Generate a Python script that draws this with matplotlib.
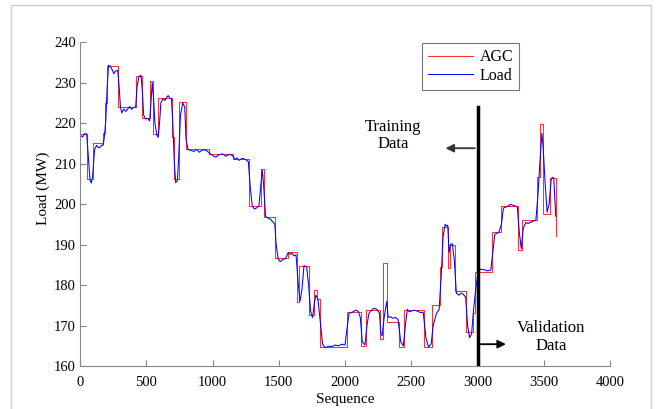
import matplotlib.pyplot as plt
from matplotlib.patches import Rectangle

# AGC set-point: step changes (sequence index, MW)
agc_x = [0, 53, 100, 176, 190, 206, 289, 423, 466, 528, 549, 591, 692, 712, 750, 797,
         976, 1157, 1275, 1364, 1389, 1472, 1567, 1640, 1655, 1726, 1768, 1791, 1811,
         2018, 2118, 2158, 2264, 2289, 2314, 2410, 2445, 2596, 2654, 2717, 2735, 2780,
         2792, 2830, 2913, 2964, 2981, 3112, 3177, 3303, 3333, 3447, 3472, 3492, 3547, 3592]
agc_y = [217.3, 206.2, 215.0, 217.5, 225.0, 234.0, 224.0, 231.7, 221.2, 230.4, 217.3, 226.2,
         216.5, 206.2, 225.3, 213.7, 212.3, 211.1, 199.5, 208.6, 196.7, 186.7, 188.1, 175.9,
         184.7, 172.6, 178.9, 176.5, 164.8, 173.4, 164.9, 173.8, 166.6, 185.5, 171.0, 164.8,
         173.8, 164.8, 175.2, 184.5, 194.4, 184.1, 190.0, 178.5, 168.3, 173.0, 183.3, 193.1,
         199.6, 188.6, 196.0, 206.7, 219.9, 197.5, 206.5, 192.1]

# measured load (sequence index, MW)
load_x = [0, 20, 35, 50, 60, 75, 85, 95, 110, 125, 140, 150, 165, 175, 185, 195, 205, 215,
          230, 245, 255, 265, 285, 295, 305, 315, 330, 345, 360, 375, 390, 400, 420, 430,
          445, 460, 470, 480, 495, 510, 525, 535, 545, 555, 565, 580, 590, 600, 610, 625,
          640, 650, 665, 680, 690, 700, 712, 722, 735, 745, 758, 775, 790, 800, 815, 840,
          860, 880, 900, 925, 950, 980, 1000, 1025, 1050, 1075, 1100, 1125, 1150, 1170,
          1185, 1200, 1225, 1250, 1270, 1285, 1300, 1315, 1330, 1350, 1365, 1375, 1385,
          1400, 1420, 1440, 1470, 1480, 1495, 1510, 1520, 1535, 1550, 1570, 1585, 1600,
          1615, 1630, 1645, 1660, 1675, 1690, 1710, 1725, 1740, 1755, 1770, 1780, 1795,
          1810, 1830, 1850, 1875, 1900, 1925, 1950, 1975, 2000, 2010, 2030, 2045, 2060,
          2080, 2100, 2115, 2130, 2150, 2165, 2180, 2200, 2220, 2240, 2260, 2270, 2280,
          2295, 2305, 2315, 2325, 2340, 2360, 2380, 2400, 2420, 2440, 2455, 2470, 2485,
          2500, 2525, 2550, 2570, 2590, 2610, 2630, 2650, 2665, 2690, 2710, 2725, 2740,
          2755, 2765, 2775, 2785, 2795, 2810, 2825, 2840, 2860, 2875, 2890, 2910, 2925,
          2940, 2955, 2970, 2990, 3005, 3025, 3050, 3075, 3100, 3115, 3130, 3145, 3160,
          3180, 3195, 3215, 3230, 3245, 3260, 3280, 3300, 3315, 3330, 3345, 3365, 3380,
          3400, 3420, 3440, 3455, 3470, 3485, 3495, 3510, 3525, 3540, 3555, 3565, 3575,
          3590]
load_y = [217.0, 216.6, 217.4, 217.3, 213.0, 206.0, 205.2, 207.0, 213.5, 214.5, 213.9, 214.0,
          214.6, 214.5, 217.0, 221.0, 229.0, 234.3, 234.0, 233.0, 232.2, 232.8, 233.0, 229.0,
          224.0, 222.5, 223.5, 222.9, 223.5, 224.1, 223.4, 223.8, 224.0, 229.0, 231.5, 231.8,
          228.0, 222.0, 221.0, 221.2, 220.5, 225.0, 230.0, 226.0, 220.0, 217.0, 216.5, 220.0,
          225.0, 226.0, 225.6, 226.2, 226.8, 226.1, 226.0, 220.0, 210.0, 205.3, 205.8, 212.0,
          222.0, 225.0, 224.0, 216.0, 213.5, 213.2, 213.0, 213.5, 212.8, 213.4, 213.3, 212.5,
          212.0, 211.6, 212.2, 212.4, 211.8, 212.3, 212.0, 211.0, 211.4, 210.8, 211.3, 211.0,
          210.5, 204.0, 199.5, 198.8, 199.0, 199.5, 205.0, 208.4, 205.0, 197.0, 196.5, 196.2,
          195.0, 190.0, 186.5, 185.8, 186.0, 186.4, 186.5, 188.0, 187.6, 187.8, 187.2, 187.5,
          181.0, 176.0, 179.0, 184.8, 184.5, 180.0, 173.5, 172.0, 176.0, 177.5, 176.5, 172.0,
          165.5, 164.5, 164.9, 164.8, 165.2, 165.0, 165.4, 165.2, 168.0, 173.0, 173.2, 173.4,
          173.8, 173.5, 172.0, 166.0, 165.2, 170.0, 173.0, 173.8, 174.3, 174.0, 173.0, 168.0,
          167.5, 172.0, 174.0, 176.0, 172.0, 172.2, 171.8, 172.0, 171.5, 166.0, 165.0, 170.0,
          174.0, 173.4, 173.6, 173.8, 173.5, 173.2, 173.3, 167.0, 164.7, 165.5, 170.0, 173.0,
          174.0, 182.0, 192.0, 195.0, 194.6, 194.8, 188.0, 190.0, 190.2, 186.0, 178.0, 177.5,
          178.0, 177.8, 177.0, 170.0, 167.0, 168.0, 174.0, 180.0, 183.5, 183.9, 183.8, 183.5,
          183.7, 188.0, 192.5, 192.8, 193.0, 195.0, 199.0, 199.3, 199.5, 199.9, 199.8, 199.6,
          199.3, 193.0, 189.0, 194.0, 195.5, 195.2, 195.5, 195.8, 196.0, 202.0, 210.0, 217.5,
          214.0, 205.0, 198.0, 200.0, 206.0, 206.6, 206.3, 197.0]

plt.rcParams['font.family'] = 'Liberation Serif'

fig = plt.figure(figsize=(6.56, 4.09), dpi=100)
ax = fig.add_axes([0.122, 0.105, 0.808, 0.792])

# light frame around the figure
fig.patches.append(Rectangle((0.0168, -0.01), 0.975, 0.998, transform=fig.transFigure,
                             fill=False, edgecolor='#cccccc', lw=1))

ax.plot(agc_x, agc_y, color='#ff3030', lw=0.75, drawstyle='steps-post', label='AGC')
ax.plot(load_x, load_y, color='#0000ff', lw=0.75, label='Load')

# training / validation split
ax.plot([3000, 3000], [160, 224], color='black', lw=2.5)
ax.annotate('', xy=(2737, 213.8), xytext=(3000, 213.8),
            arrowprops=dict(arrowstyle='-|>', color='#333333', lw=1.3, mutation_scale=12))
ax.annotate('', xy=(3235, 165.4), xytext=(3000, 165.4),
            arrowprops=dict(arrowstyle='-|>', color='black', lw=1.3, mutation_scale=12))
ax.text(2360, 217, 'Training\nData', ha='center', va='center', fontsize=12, linespacing=1.1)
ax.text(3555, 167.2, 'Validation\nData', ha='center', va='center', fontsize=12, linespacing=1.1)

ax.set_xlim(0, 4000)
ax.set_ylim(160, 240)
ax.set_xticks(range(0, 4001, 500))
ax.set_yticks(range(160, 241, 10))
ax.set_xlabel('Sequence', fontsize=11, labelpad=3)
ax.set_ylabel('Load (MW)', fontsize=11)
ax.yaxis.set_label_coords(-0.056, 0.55)
ax.tick_params(direction='in', length=4, color='#888888', labelsize=10.5)
ax.tick_params(axis='x', pad=7)
ax.tick_params(axis='y', pad=3)
for side in ['top', 'right']:
    ax.spines[side].set_visible(False)
for side in ['left', 'bottom']:
    ax.spines[side].set_color('#888888')

leg = ax.legend(loc='upper left', bbox_to_anchor=(0.645, 0.998), borderaxespad=0,
                fancybox=False, edgecolor='#555555', fontsize=11.5, handlelength=2.8,
                handletextpad=0.4, borderpad=0.4, labelspacing=0.15)
leg.get_frame().set_linewidth(0.8)

fig.savefig('out.png', dpi=100)
